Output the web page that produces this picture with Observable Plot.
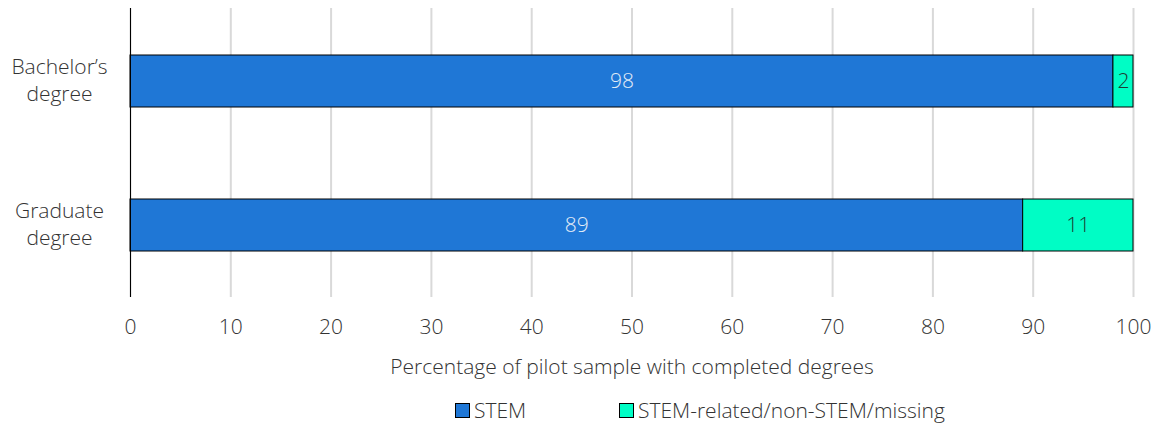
<!DOCTYPE html>
<html>
<head>
<meta charset="utf-8">
<script src="https://cdn.jsdelivr.net/npm/d3@7"></script>
<script src="https://cdn.jsdelivr.net/npm/@observablehq/plot@0.6"></script>
<style>
  body { margin: 0; background: #fff; font-family: "Open Sans", sans-serif; font-weight: 300; }
  #chart svg { display: block; }
  .legend { position: relative; height: 38px; font-size: 21px; color: #333; font-weight: 300; }
  .legend .item { position: absolute; top: 15px; display: flex; align-items: center; line-height: 1; }
  .legend .sw { width: 13px; height: 13px; border: 1px solid #000; margin-right: 4px; }
</style>
</head>
<body>
<div id="chart"></div>
<div class="legend" id="legend"></div>
<script>
const categories = ["Bachelor’s degree", "Graduate degree"];
const categoryLabels = ["Bachelor’s\ndegree", "Graduate\ndegree"];
const seriesNames = ["STEM", "STEM-related/non-STEM/missing"];
const stemValues = [98, 89];
const otherValues = [2, 11];
const xTicks = [0, 10, 20, 30, 40, 50, 60, 70, 80, 90, 100];
const colors = ["#1f77d6", "#00fdc5"];
const textColors = ["#e3ecf7", "#1e3b33"];

const data = [];
categories.forEach((c, i) => {
  data.push({cat: c, series: seriesNames[0], value: stemValues[i]});
  data.push({cat: c, series: seriesNames[1], value: otherValues[i]});
});
const labelMap = new Map(categories.map((c, i) => [c, categoryLabels[i]]));

const chart = Plot.plot({
  width: 1157,
  height: 385,
  marginLeft: 130,
  marginRight: 24,
  marginTop: 8,
  marginBottom: 88,
  style: {fontFamily: "Open Sans, sans-serif", fontSize: "21px", fontWeight: 300, color: "#333"},
  x: {domain: [0, 100]},
  y: {domain: categories, paddingInner: 0.64, paddingOuter: 0.32},
  color: {domain: seriesNames, range: colors},
  marks: [
    Plot.gridX(xTicks, {stroke: "#d9d9d9", strokeOpacity: 1, strokeWidth: 2}),
    Plot.barX(data, Plot.stackX({x: "value", y: "cat", fill: "series", stroke: "#000", strokeWidth: 1, order: seriesNames})),
    Plot.textX(data, Plot.stackX({x: "value", y: "cat", z: "series", order: seriesNames, text: d => String(d.value),
      fill: d => textColors[seriesNames.indexOf(d.series)], fontSize: 21, fontWeight: 300})),
    Plot.ruleX([0], {stroke: "#000", strokeWidth: 1}),
    Plot.axisX({ticks: xTicks, tickSize: 0, tickPadding: 22, fontSize: 21, fontWeight: 300, label: "Percentage of pilot sample with completed degrees", labelAnchor: "center", labelArrow: "none", labelOffset: 76}),
    Plot.axisY({tickSize: 0, tickPadding: 71, textAnchor: "middle", tickFormat: d => labelMap.get(d), fontSize: 21, fontWeight: 300, lineHeight: 1.3, dy: -3, label: null})
  ]
});
document.getElementById("chart").appendChild(chart);

const legend = document.getElementById("legend");
const legendLeft = [455, 619];
seriesNames.forEach((s, i) => {
  const item = document.createElement("div");
  item.className = "item";
  item.style.left = legendLeft[i] + "px";
  const sw = document.createElement("span");
  sw.className = "sw";
  sw.style.background = colors[i];
  const t = document.createElement("span");
  t.textContent = s;
  item.appendChild(sw);
  item.appendChild(t);
  legend.appendChild(item);
});
</script>
</body>
</html>
